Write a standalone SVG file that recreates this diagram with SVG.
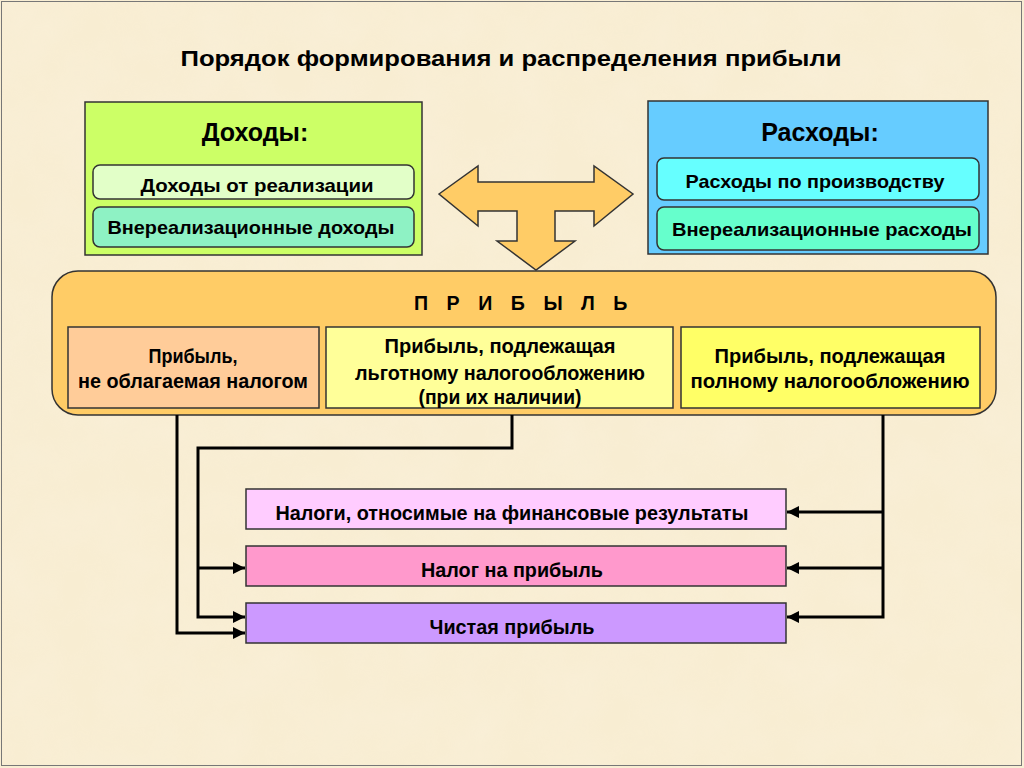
<svg xmlns="http://www.w3.org/2000/svg" width="1024" height="768" viewBox="0 0 1024 768">
<defs>
<style>
.t{font-family:"Liberation Sans",Arial,sans-serif;font-weight:bold;fill:#000;text-anchor:middle}
.n{font-family:"Liberation Sans Narrow","Liberation Sans",Arial,sans-serif;font-weight:bold;fill:#000;text-anchor:middle}
.box{stroke:#333;stroke-width:1.5}
.conn{fill:none;stroke:#000;stroke-width:3}
</style>
<filter id="tex" x="0" y="0" width="100%" height="100%">
<feTurbulence type="fractalNoise" baseFrequency="0.02" numOctaves="3" seed="4"/>
<feColorMatrix type="matrix" values="0 0 0 0 0.97  0 0 0 0 0.90  0 0 0 0 0.76  0 0 0 -1.2 0.9"/>
</filter>
<marker id="ah" viewBox="0 0 10 10" refX="10" refY="5" markerWidth="4" markerHeight="4" orient="auto" markerUnits="strokeWidth">
<path d="M0,0 L10,5 L0,10 z" fill="#000"/>
</marker>
</defs>
<rect x="0" y="0" width="1024" height="768" fill="#F8EDD2"/>
<rect x="0" y="0" width="1024" height="768" filter="url(#tex)" opacity="0.35"/>
<rect x="1.5" y="1.5" width="1020" height="764" fill="none" stroke="#777" stroke-width="1"/>

<text class="t" x="511" y="66" font-size="22" textLength="661" lengthAdjust="spacingAndGlyphs">Порядок формирования и распределения прибыли</text>

<g id="incomes">
<rect class="box" x="85" y="102" width="337" height="153" fill="#CCFF66"/>
<text class="t" x="255" y="141" font-size="25">Доходы:</text>
<rect class="box" x="93" y="165" width="321" height="34" rx="7" fill="#E2FFC8"/>
<text class="t" x="257" y="192" font-size="19" textLength="233" lengthAdjust="spacingAndGlyphs">Доходы  от реализации</text>
<rect class="box" x="93" y="207" width="321" height="40" rx="7" fill="#8EF2C4"/>
<text class="t" x="251" y="234" font-size="19" textLength="287" lengthAdjust="spacingAndGlyphs">Внереализационные доходы</text>
</g>

<g id="expenses">
<rect class="box" x="648" y="101" width="340" height="153" fill="#66CCFF"/>
<text class="t" x="820" y="141" font-size="25">Расходы:</text>
<rect class="box" x="657" y="158" width="322" height="42" rx="7" fill="#66FFFF"/>
<text class="t" x="815" y="188" font-size="19" textLength="259" lengthAdjust="spacingAndGlyphs">Расходы по производству</text>
<rect class="box" x="657" y="207" width="322" height="43" rx="7" fill="#66FFCC"/>
<text class="t" x="822" y="236" font-size="19" textLength="300" lengthAdjust="spacingAndGlyphs">Внереализационные  расходы</text>
</g>

<g id="arrow">
<path class="box" d="M439,194 L478,166 L478,182 L594,182 L594,166 L633,194 L594,226 L594,211 L555,211 L555,241 L575,241 L536,270 L497,241 L517,241 L517,211 L478,211 L478,226 Z" fill="#FFCC66"/>
</g>

<g id="profit">
<rect class="box" x="52" y="271" width="944" height="144" rx="26" fill="#FFCC66"/>
<text class="n" x="524" y="310" font-size="21" letter-spacing="7" textLength="220" lengthAdjust="spacingAndGlyphs">П Р И Б Ы Л Ь</text>
</g>
<g id="profit-nontax">
<rect class="box" x="68" y="327" width="251" height="81" fill="#FFCC99"/>
<text class="n" x="193" y="363" font-size="20" textLength="89" lengthAdjust="spacingAndGlyphs">Прибыль,</text>
<text class="n" x="193" y="388" font-size="20" textLength="230" lengthAdjust="spacingAndGlyphs">не облагаемая налогом</text>
</g>
<g id="profit-pref">
<rect class="box" x="326" y="327" width="347" height="81" fill="#FFFF99"/>
<text class="n" x="500" y="353" font-size="20" textLength="231" lengthAdjust="spacingAndGlyphs">Прибыль, подлежащая</text>
<text class="n" x="500" y="380" font-size="20" textLength="290" lengthAdjust="spacingAndGlyphs">льготному налогообложению</text>
<text class="n" x="500" y="404" font-size="20" textLength="163" lengthAdjust="spacingAndGlyphs">(при их наличии)</text>
</g>
<g id="profit-full">
<rect class="box" x="681" y="327" width="299" height="81" fill="#FFFF66"/>
<text class="n" x="830" y="363" font-size="20" textLength="231" lengthAdjust="spacingAndGlyphs">Прибыль, подлежащая</text>
<text class="n" x="830" y="388" font-size="20" textLength="279" lengthAdjust="spacingAndGlyphs">полному налогообложению</text>
</g>

<g id="taxes-fin">
<rect class="box" x="246" y="489" width="540" height="40" fill="#FFCCFF"/>
<text class="n" x="512" y="520" font-size="20" textLength="473" lengthAdjust="spacingAndGlyphs">Налоги, относимые на финансовые результаты</text>
</g>
<g id="income-tax">
<rect class="box" x="246" y="546" width="540" height="40" fill="#FF99CC"/>
<text class="n" x="512" y="577" font-size="20" textLength="182" lengthAdjust="spacingAndGlyphs">Налог на прибыль</text>
</g>
<g id="net-profit">
<rect class="box" x="246" y="603" width="540" height="40" fill="#CC99FF"/>
<text class="n" x="512" y="634" font-size="20" textLength="165" lengthAdjust="spacingAndGlyphs">Чистая прибыль</text>
</g>

<g id="connectors">
<path class="conn" d="M177,415 L177,633 L245,633" marker-end="url(#ah)"/>
<path class="conn" d="M512,415 L512,448 L198,448 L198,617 L245,617" marker-end="url(#ah)"/>
<path class="conn" d="M198,568 L245,568" marker-end="url(#ah)"/>
<path class="conn" d="M883,415 L883,617 L787,617" marker-end="url(#ah)"/>
<path class="conn" d="M883,568 L787,568" marker-end="url(#ah)"/>
<path class="conn" d="M883,512 L787,512" marker-end="url(#ah)"/>
</g>
</svg>
